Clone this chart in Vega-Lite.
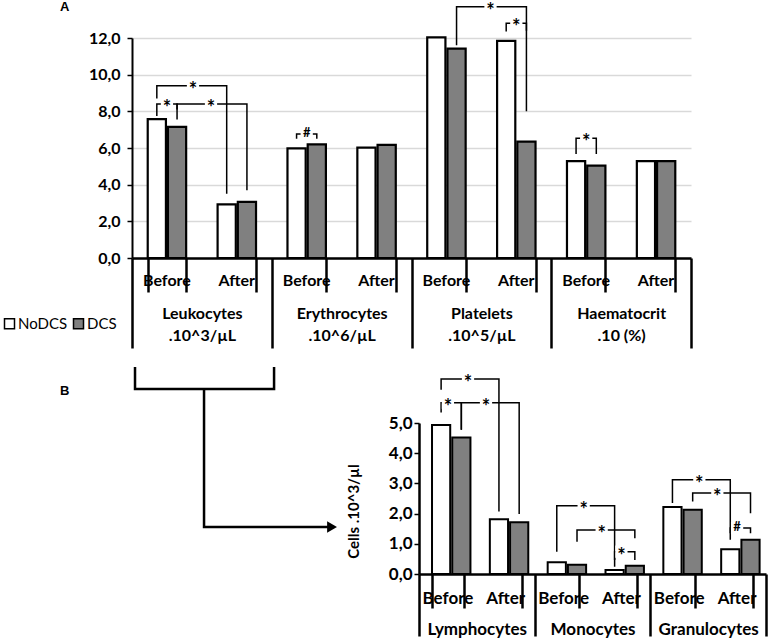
{
  "$schema": "https://vega.github.io/schema/vega-lite/v6.json",
  "padding": {"top": 0, "left": 2, "right": 2, "bottom": 0},
  "config": {
    "view": {"stroke": null},
    "font": "Lato",
    "title": {"font": "Liberation Sans", "fontSize": 13, "fontWeight": "bold", "color": "black"}
  },
  "resolve": {"scale": {"color": "independent"}, "legend": {"color": "independent"}},
  "spacing": 11,
  "datasets": {
    "barsA": [
      {"key": "Leukocytes|Before", "series": "NoDCS", "value": 7.58},
      {"key": "Leukocytes|Before", "series": "DCS", "value": 7.15},
      {"key": "Leukocytes|After", "series": "NoDCS", "value": 2.93},
      {"key": "Leukocytes|After", "series": "DCS", "value": 3.06},
      {"key": "Erythrocytes|Before", "series": "NoDCS", "value": 5.98},
      {"key": "Erythrocytes|Before", "series": "DCS", "value": 6.2},
      {"key": "Erythrocytes|After", "series": "NoDCS", "value": 6.02},
      {"key": "Erythrocytes|After", "series": "DCS", "value": 6.17},
      {"key": "Platelets|Before", "series": "NoDCS", "value": 12.03},
      {"key": "Platelets|Before", "series": "DCS", "value": 11.42},
      {"key": "Platelets|After", "series": "NoDCS", "value": 11.84},
      {"key": "Platelets|After", "series": "DCS", "value": 6.35},
      {"key": "Haematocrit|Before", "series": "NoDCS", "value": 5.28},
      {"key": "Haematocrit|Before", "series": "DCS", "value": 5.04},
      {"key": "Haematocrit|After", "series": "NoDCS", "value": 5.28},
      {"key": "Haematocrit|After", "series": "DCS", "value": 5.28}
    ],
    "bracketsA": [
      {"id": "A1", "ord": 1, "key": "Leukocytes|Before", "series": "NoDCS", "y": 8.7},
      {"id": "A1", "ord": 2, "key": "Leukocytes|Before", "series": "NoDCS", "y": 9.4},
      {"id": "A1", "ord": 3, "key": "Leukocytes|After", "series": "NoDCS", "y": 9.4},
      {"id": "A1", "ord": 4, "key": "Leukocytes|After", "series": "NoDCS", "y": 3.5},
      {"id": "A2", "ord": 1, "key": "Leukocytes|Before", "series": "NoDCS", "y": 7.75},
      {"id": "A2", "ord": 2, "key": "Leukocytes|Before", "series": "NoDCS", "y": 8.4},
      {"id": "A2", "ord": 3, "key": "Leukocytes|Before", "series": "DCS", "y": 8.4},
      {"id": "A2", "ord": 4, "key": "Leukocytes|Before", "series": "DCS", "y": 8.1},
      {"id": "A3", "ord": 1, "key": "Leukocytes|Before", "series": "DCS", "y": 7.55},
      {"id": "A3", "ord": 2, "key": "Leukocytes|Before", "series": "DCS", "y": 8.4},
      {"id": "A3", "ord": 3, "key": "Leukocytes|After", "series": "DCS", "y": 8.4},
      {"id": "A3", "ord": 4, "key": "Leukocytes|After", "series": "DCS", "y": 3.7},
      {"id": "A4", "ord": 1, "key": "Erythrocytes|Before", "series": "NoDCS", "y": 6.5},
      {"id": "A4", "ord": 2, "key": "Erythrocytes|Before", "series": "NoDCS", "y": 6.77},
      {"id": "A4", "ord": 3, "key": "Erythrocytes|Before", "series": "DCS", "y": 6.77},
      {"id": "A4", "ord": 4, "key": "Erythrocytes|Before", "series": "DCS", "y": 6.5},
      {"id": "A5", "ord": 1, "key": "Platelets|Before", "series": "DCS", "y": 11.6},
      {"id": "A5", "ord": 2, "key": "Platelets|Before", "series": "DCS", "y": 13.7},
      {"id": "A5", "ord": 3, "key": "Platelets|After", "series": "DCS", "y": 13.7},
      {"id": "A5", "ord": 4, "key": "Platelets|After", "series": "DCS", "y": 8.0},
      {"id": "A6", "ord": 1, "key": "Platelets|After", "series": "NoDCS", "y": 12.35},
      {"id": "A6", "ord": 2, "key": "Platelets|After", "series": "NoDCS", "y": 12.8},
      {"id": "A6", "ord": 3, "key": "Platelets|After", "series": "DCS", "y": 12.8},
      {"id": "A6", "ord": 4, "key": "Platelets|After", "series": "DCS", "y": 12.4},
      {"id": "A7", "ord": 1, "key": "Haematocrit|Before", "series": "NoDCS", "y": 5.67},
      {"id": "A7", "ord": 2, "key": "Haematocrit|Before", "series": "NoDCS", "y": 6.53},
      {"id": "A7", "ord": 3, "key": "Haematocrit|Before", "series": "DCS", "y": 6.53},
      {"id": "A7", "ord": 4, "key": "Haematocrit|Before", "series": "DCS", "y": 5.67}
    ],
    "innerA": [
      {"key": "Leukocytes|Before", "y": 8.4, "sym": "*"},
      {"key": "Erythrocytes|Before", "y": 6.77, "sym": "#"},
      {"key": "Platelets|After", "y": 12.8, "sym": "*"},
      {"key": "Haematocrit|Before", "y": 6.53, "sym": "*"}
    ],
    "crossA": [
      {"group": "Leukocytes~.10^3/µL", "series": "NoDCS", "y": 9.4, "sym": "*"},
      {"group": "Leukocytes~.10^3/µL", "series": "DCS", "y": 8.4, "sym": "*"},
      {"group": "Platelets~.10^5/µL", "series": "DCS", "y": 13.7, "sym": "*"}
    ],
    "barsB": [
      {"key": "Lymphocytes|Before", "series": "NoDCS", "value": 4.93},
      {"key": "Lymphocytes|Before", "series": "DCS", "value": 4.52},
      {"key": "Lymphocytes|After", "series": "NoDCS", "value": 1.81},
      {"key": "Lymphocytes|After", "series": "DCS", "value": 1.71},
      {"key": "Monocytes|Before", "series": "NoDCS", "value": 0.39},
      {"key": "Monocytes|Before", "series": "DCS", "value": 0.31},
      {"key": "Monocytes|After", "series": "NoDCS", "value": 0.13},
      {"key": "Monocytes|After", "series": "DCS", "value": 0.27},
      {"key": "Granulocytes|Before", "series": "NoDCS", "value": 2.22},
      {"key": "Granulocytes|Before", "series": "DCS", "value": 2.13},
      {"key": "Granulocytes|After", "series": "NoDCS", "value": 0.82},
      {"key": "Granulocytes|After", "series": "DCS", "value": 1.13}
    ],
    "bracketsB": [
      {"id": "B1", "ord": 1, "key": "Lymphocytes|Before", "series": "NoDCS", "y": 6.1},
      {"id": "B1", "ord": 2, "key": "Lymphocytes|Before", "series": "NoDCS", "y": 6.46},
      {"id": "B1", "ord": 3, "key": "Lymphocytes|After", "series": "NoDCS", "y": 6.46},
      {"id": "B1", "ord": 4, "key": "Lymphocytes|After", "series": "NoDCS", "y": 2.07},
      {"id": "B2", "ord": 1, "key": "Lymphocytes|Before", "series": "NoDCS", "y": 5.35},
      {"id": "B2", "ord": 2, "key": "Lymphocytes|Before", "series": "NoDCS", "y": 5.67},
      {"id": "B2", "ord": 3, "key": "Lymphocytes|Before", "series": "DCS", "y": 5.67},
      {"id": "B2", "ord": 4, "key": "Lymphocytes|Before", "series": "DCS", "y": 4.78},
      {"id": "B3", "ord": 1, "key": "Lymphocytes|Before", "series": "DCS", "y": 4.78},
      {"id": "B3", "ord": 2, "key": "Lymphocytes|Before", "series": "DCS", "y": 5.67},
      {"id": "B3", "ord": 3, "key": "Lymphocytes|After", "series": "DCS", "y": 5.67},
      {"id": "B3", "ord": 4, "key": "Lymphocytes|After", "series": "DCS", "y": 1.99},
      {"id": "B4", "ord": 1, "key": "Monocytes|Before", "series": "NoDCS", "y": 0.74},
      {"id": "B4", "ord": 2, "key": "Monocytes|Before", "series": "NoDCS", "y": 2.26},
      {"id": "B4", "ord": 3, "key": "Monocytes|After", "series": "NoDCS", "y": 2.26},
      {"id": "B4", "ord": 4, "key": "Monocytes|After", "series": "NoDCS", "y": 0.24},
      {"id": "B5", "ord": 1, "key": "Monocytes|Before", "series": "DCS", "y": 1.07},
      {"id": "B5", "ord": 2, "key": "Monocytes|Before", "series": "DCS", "y": 1.46},
      {"id": "B5", "ord": 3, "key": "Monocytes|After", "series": "DCS", "y": 1.46},
      {"id": "B5", "ord": 4, "key": "Monocytes|After", "series": "DCS", "y": 1.18},
      {"id": "B6", "ord": 1, "key": "Monocytes|After", "series": "NoDCS", "y": 0.46},
      {"id": "B6", "ord": 2, "key": "Monocytes|After", "series": "NoDCS", "y": 0.74},
      {"id": "B6", "ord": 3, "key": "Monocytes|After", "series": "DCS", "y": 0.74},
      {"id": "B6", "ord": 4, "key": "Monocytes|After", "series": "DCS", "y": 0.46},
      {"id": "B7", "ord": 1, "key": "Granulocytes|Before", "series": "NoDCS", "y": 2.35},
      {"id": "B7", "ord": 2, "key": "Granulocytes|Before", "series": "NoDCS", "y": 3.12},
      {"id": "B7", "ord": 3, "key": "Granulocytes|After", "series": "NoDCS", "y": 3.12},
      {"id": "B7", "ord": 4, "key": "Granulocytes|After", "series": "NoDCS", "y": 1.13},
      {"id": "B8", "ord": 1, "key": "Granulocytes|Before", "series": "DCS", "y": 2.4},
      {"id": "B8", "ord": 2, "key": "Granulocytes|Before", "series": "DCS", "y": 2.68},
      {"id": "B8", "ord": 3, "key": "Granulocytes|After", "series": "DCS", "y": 2.68},
      {"id": "B8", "ord": 4, "key": "Granulocytes|After", "series": "DCS", "y": 2.01},
      {"id": "B9", "ord": 1, "key": "Granulocytes|After", "series": "NoDCS", "y": 1.35},
      {"id": "B9", "ord": 2, "key": "Granulocytes|After", "series": "NoDCS", "y": 1.52},
      {"id": "B9", "ord": 3, "key": "Granulocytes|After", "series": "DCS", "y": 1.52},
      {"id": "B9", "ord": 4, "key": "Granulocytes|After", "series": "DCS", "y": 1.35}
    ],
    "innerB": [
      {"key": "Lymphocytes|Before", "y": 5.67, "sym": "*"},
      {"key": "Monocytes|After", "y": 0.74, "sym": "*"},
      {"key": "Granulocytes|After", "y": 1.52, "sym": "#"}
    ],
    "crossB": [
      {"group": "Lymphocytes", "series": "NoDCS", "y": 6.46, "sym": "*"},
      {"group": "Lymphocytes", "series": "DCS", "y": 5.67, "sym": "*"},
      {"group": "Monocytes", "series": "NoDCS", "y": 2.26, "sym": "*"},
      {"group": "Monocytes", "series": "DCS", "y": 1.46, "sym": "*"},
      {"group": "Granulocytes", "series": "NoDCS", "y": 3.12, "sym": "*"},
      {"group": "Granulocytes", "series": "DCS", "y": 2.68, "sym": "*"}
    ],
    "connector": [
      {"part": "bracket", "ord": 1, "cx": 0.0105, "cy": 1.371},
      {"part": "bracket", "ord": 2, "cx": 0.0105, "cy": 1.225},
      {"part": "bracket", "ord": 3, "cx": 0.495, "cy": 1.225},
      {"part": "bracket", "ord": 4, "cx": 0.495, "cy": 1.371},
      {"part": "stem", "ord": 1, "cx": 0.251, "cy": 1.225},
      {"part": "stem", "ord": 2, "cx": 0.251, "cy": 0.311},
      {"part": "stem", "ord": 3, "cx": 0.697, "cy": 0.311}
    ],
    "arrowhead": [
      {"cx": 0.697, "cy": 0.311}
    ]
  },
  "vconcat": [
    {
      "width": 559,
      "height": 220,
      "title": {"text": "A", "anchor": "start", "frame": "group", "dx": -72, "offset": -13},
      "resolve": {"scale": {"x": "independent"}},
      "layer": [
        {
          "layer": [
            {
              "data": {"name": "barsA"},
              "mark": {"type": "bar", "stroke": "black", "strokeWidth": 2.2},
              "encoding": {
                "x": {
                  "field": "key", "type": "nominal",
                  "scale": {
                    "domain": ["Leukocytes|Before", "Leukocytes|After", "Erythrocytes|Before", "Erythrocytes|After", "Platelets|Before", "Platelets|After", "Haematocrit|Before", "Haematocrit|After"],
                    "paddingInner": 0.45, "paddingOuter": 0.225
                  },
                  "axis": {
                    "orient": "bottom", "title": null, "ticks": false,
                    "domainColor": "black", "domainWidth": 2.5, "labelExpr": "isValid(datum.value) ? split(datum.value, '|')[1] : ''", "labelPadding": 14.5,
                    "labelFontSize": 16, "labelFontWeight": "bold", "labelColor": "black", "labelAngle": 0, "grid": false
                  }
                },
                "xOffset": {"field": "series", "type": "nominal", "scale": {"domain": ["NoDCS", "DCS"], "paddingInner": 0.1}},
                "y": {
                  "field": "value", "type": "quantitative",
                  "scale": {"domain": [0, 12], "nice": false},
                  "axis": {
                    "title": null, "values": [0, 2, 4, 6, 8, 10, 12], "tickCount": 7, "labelOverlap": false,
                    "labelExpr": "replace(format(datum.value, '.1f'), '.', ',')",
                    "labelFontSize": 16, "labelFontWeight": "bold", "labelColor": "black",
                    "tickSize": 5, "tickColor": "black", "tickWidth": 1.5, "domainColor": "black", "domainWidth": 2,
                    "grid": true, "gridColor": "#d9d9d9", "gridWidth": 1.5, "labelPadding": 7, "minExtent": 120
                  }
                },
                "color": {
                  "field": "series", "type": "nominal",
                  "scale": {"domain": ["NoDCS", "DCS"], "range": ["#ffffff", "#808080"]},
                  "legend": {
                    "title": null, "orient": "none", "legendX": -130, "legendY": 278, "direction": "horizontal",
                    "symbolType": "square", "symbolSize": 100, "symbolStrokeColor": "black", "symbolStrokeWidth": 1.5,
                    "labelFontSize": 15, "labelFont": "Lato", "labelColor": "black", "labelOffset": 1, "columnPadding": 2
                  }
                }
              }
            },
            {
              "data": {"name": "bracketsA"},
              "mark": {"type": "line", "color": "black", "strokeWidth": 1.5},
              "encoding": {
                "x": {"field": "key", "type": "nominal"},
                "xOffset": {"field": "series", "type": "nominal"},
                "y": {"field": "y", "type": "quantitative"},
                "detail": {"field": "id"},
                "order": {"field": "ord", "type": "quantitative"}
              }
            },
            {
              "data": {"name": "innerA"},
              "mark": {"type": "point", "shape": "square", "size": 150, "filled": true, "color": "white", "opacity": 1, "strokeWidth": 0},
              "encoding": {
                "x": {"field": "key", "type": "nominal"},
                "y": {"field": "y", "type": "quantitative"}
              }
            },
            {
              "data": {"name": "innerA"},
              "transform": [{"filter": "datum.sym == '*'"}],
              "mark": {"type": "text", "fontSize": 20, "fontWeight": "bold", "color": "black", "baseline": "middle", "dy": 5},
              "encoding": {
                "x": {"field": "key", "type": "nominal"},
                "y": {"field": "y", "type": "quantitative"},
                "text": {"field": "sym"}
              }
            },
            {
              "data": {"name": "innerA"},
              "transform": [{"filter": "datum.sym == '#'"}],
              "mark": {"type": "text", "fontSize": 13, "fontWeight": "bold", "color": "black", "baseline": "middle", "dy": -1},
              "encoding": {
                "x": {"field": "key", "type": "nominal"},
                "y": {"field": "y", "type": "quantitative"},
                "text": {"field": "sym"}
              }
            }
          ]
        },
        {
          "data": {"name": "barsA"},
          "mark": {"type": "point", "opacity": 0},
          "encoding": {
            "x": {
              "field": "key", "type": "nominal",
              "scale": {
                "domain": ["Leukocytes|Before", "Leukocytes|After", "Erythrocytes|Before", "Erythrocytes|After", "Platelets|Before", "Platelets|After", "Haematocrit|Before", "Haematocrit|After"],
                "paddingInner": 0.45, "paddingOuter": 0.225
              },
              "axis": {
                "orient": "bottom", "title": null, "domain": false, "labels": false, "grid": false, "ticks": true,
                "tickBand": "extent", "tickSize": 34, "tickWidth": 2.5, "tickColor": "black"
              }
            }
          }
        },
        {
          "data": {"name": "crossA"},
          "encoding": {
            "x": {
              "field": "group", "type": "nominal",
              "scale": {"domain": ["Leukocytes~.10^3/µL", "Erythrocytes~.10^6/µL", "Platelets~.10^5/µL", "Haematocrit~.10 (%)"], "paddingInner": 0, "paddingOuter": 0},
              "axis": {
                "orient": "bottom", "title": null, "domain": false, "grid": false, "ticks": true, "tickBand": "extent", "tickSize": 90,
                "tickWidth": 2.5, "tickColor": "black", "labelExpr": "isValid(datum.value) ? split(datum.value, '~') : ''", "labelPadding": -43,
                "labelLineHeight": 22, "labelFontSize": 16, "labelFontWeight": "bold", "labelColor": "black", "labelAngle": 0, "labelLimit": 0
              }
            },
            "y": {
              "field": "y", "type": "quantitative",
              "axis": {
                "title": null, "values": [0, 2, 4, 6, 8, 10, 12], "tickCount": 7, "labelOverlap": false,
                "labelExpr": "replace(format(datum.value, '.1f'), '.', ',')",
                "labelFontSize": 16, "labelFontWeight": "bold", "labelColor": "black",
                "tickSize": 5, "tickColor": "black", "tickWidth": 1.5, "domainColor": "black", "domainWidth": 2,
                "grid": true, "gridColor": "#d9d9d9", "gridWidth": 1.5, "labelPadding": 7, "minExtent": 120
              }
            }
          },
          "layer": [
            {
              "transform": [{"filter": "datum.series == 'NoDCS'"}],
              "encoding": {"xOffset": {"value": 61}},
              "layer": [
                {"mark": {"type": "point", "shape": "square", "size": 150, "filled": true, "color": "white", "opacity": 1, "strokeWidth": 0}},
                {"mark": {"type": "text", "fontSize": 20, "fontWeight": "bold", "color": "black", "baseline": "middle", "dy": 5}, "encoding": {"text": {"field": "sym"}}}
              ]
            },
            {
              "transform": [{"filter": "datum.series == 'DCS'"}],
              "encoding": {"xOffset": {"value": 79}},
              "layer": [
                {"mark": {"type": "point", "shape": "square", "size": 150, "filled": true, "color": "white", "opacity": 1, "strokeWidth": 0}},
                {"mark": {"type": "text", "fontSize": 20, "fontWeight": "bold", "color": "black", "baseline": "middle", "dy": 5}, "encoding": {"text": {"field": "sym"}}}
              ]
            }
          ]
        }
      ]
    },
    {
      "spacing": 0,
      "bounds": "flush",
      "hconcat": [
        {
          "width": 287,
          "height": 151,
          "title": {"text": "B", "anchor": "start", "frame": "group", "dx": -72, "offset": -36},
          "layer": [
            {
              "data": {"name": "connector"},
              "mark": {"type": "line", "color": "black", "strokeWidth": 2.5},
              "encoding": {
                "x": {"field": "cx", "type": "quantitative", "scale": {"domain": [0, 1], "nice": false, "zero": false}, "axis": null},
                "y": {"field": "cy", "type": "quantitative", "scale": {"domain": [0, 1], "nice": false, "zero": false}, "axis": null},
                "detail": {"field": "part"},
                "order": {"field": "ord", "type": "quantitative"}
              }
            },
            {
              "data": {"name": "arrowhead"},
              "mark": {"type": "point", "shape": "triangle-right", "size": 130, "filled": true, "color": "black", "opacity": 1},
              "encoding": {
                "x": {"field": "cx", "type": "quantitative"},
                "y": {"field": "cy", "type": "quantitative"}
              }
            }
          ]
        },
        {
          "width": 347,
          "height": 151,
          "resolve": {"scale": {"x": "independent"}},
          "layer": [
            {
              "layer": [
                {
                  "data": {"name": "barsB"},
                  "mark": {"type": "bar", "stroke": "black", "strokeWidth": 2},
                  "encoding": {
                    "x": {
                      "field": "key", "type": "nominal",
                      "scale": {
                        "domain": ["Lymphocytes|Before", "Lymphocytes|After", "Monocytes|Before", "Monocytes|After", "Granulocytes|Before", "Granulocytes|After"],
                        "paddingInner": 0.45, "paddingOuter": 0.225
                      },
                      "axis": {
                        "orient": "bottom", "title": null, "ticks": false,
                        "domainColor": "black", "domainWidth": 2.5, "labelExpr": "isValid(datum.value) ? split(datum.value, '|')[1] : ''", "labelPadding": 16,
                        "labelFontSize": 17, "labelFontWeight": "bold", "labelColor": "black", "labelAngle": 0, "grid": false
                      }
                    },
                    "xOffset": {"field": "series", "type": "nominal", "scale": {"domain": ["NoDCS", "DCS"], "paddingInner": 0.08}},
                    "y": {
                      "field": "value", "type": "quantitative",
                      "scale": {"domain": [0, 5], "nice": false},
                      "axis": {
                        "title": "Cells .10^3/µl", "titleFontSize": 15, "titleFontWeight": "bold", "titleColor": "black", "titleX": -58, "titleY": 88,
                        "values": [0, 1, 2, 3, 4, 5], "tickCount": 6, "labelOverlap": false,
                        "labelExpr": "replace(format(datum.value, '.1f'), '.', ',')",
                        "labelFontSize": 17, "labelFontWeight": "bold", "labelColor": "black",
                        "tickSize": 5, "tickColor": "black", "tickWidth": 1.5, "domainColor": "black", "domainWidth": 2.5,
                        "grid": false, "labelPadding": 2
                      }
                    },
                    "color": {
                      "field": "series", "type": "nominal",
                      "scale": {"domain": ["NoDCS", "DCS"], "range": ["#ffffff", "#808080"]},
                      "legend": null
                    }
                  }
                },
                {
                  "data": {"name": "bracketsB"},
                  "mark": {"type": "line", "color": "black", "strokeWidth": 1.5},
                  "encoding": {
                    "x": {"field": "key", "type": "nominal"},
                    "xOffset": {"field": "series", "type": "nominal"},
                    "y": {"field": "y", "type": "quantitative"},
                    "detail": {"field": "id"},
                    "order": {"field": "ord", "type": "quantitative"}
                  }
                },
                {
                  "data": {"name": "innerB"},
                  "mark": {"type": "point", "shape": "square", "size": 150, "filled": true, "color": "white", "opacity": 1, "strokeWidth": 0},
                  "encoding": {
                    "x": {"field": "key", "type": "nominal"},
                    "y": {"field": "y", "type": "quantitative"}
                  }
                },
                {
                  "data": {"name": "innerB"},
                  "transform": [{"filter": "datum.sym == '*'"}],
                  "mark": {"type": "text", "fontSize": 20, "fontWeight": "bold", "color": "black", "baseline": "middle", "dy": 5},
                  "encoding": {
                    "x": {"field": "key", "type": "nominal"},
                    "y": {"field": "y", "type": "quantitative"},
                    "text": {"field": "sym"}
                  }
                },
                {
                  "data": {"name": "innerB"},
                  "transform": [{"filter": "datum.sym == '#'"}],
                  "mark": {"type": "text", "fontSize": 13, "fontWeight": "bold", "color": "black", "baseline": "middle", "dy": -1},
                  "encoding": {
                    "x": {"field": "key", "type": "nominal"},
                    "y": {"field": "y", "type": "quantitative"},
                    "text": {"field": "sym"}
                  }
                }
              ]
            },
            {
              "data": {"name": "barsB"},
              "mark": {"type": "point", "opacity": 0},
              "encoding": {
                "x": {
                  "field": "key", "type": "nominal",
                  "scale": {
                    "domain": ["Lymphocytes|Before", "Lymphocytes|After", "Monocytes|Before", "Monocytes|After", "Granulocytes|Before", "Granulocytes|After"],
                    "paddingInner": 0.45, "paddingOuter": 0.225
                  },
                  "axis": {
                    "orient": "bottom", "title": null, "domain": false, "labels": false, "grid": false, "ticks": true,
                    "tickBand": "extent", "tickSize": 34, "tickWidth": 2.5, "tickColor": "black"
                  }
                }
              }
            },
            {
              "data": {"name": "crossB"},
              "encoding": {
                "x": {
                  "field": "group", "type": "nominal",
                  "scale": {"domain": ["Lymphocytes", "Monocytes", "Granulocytes"], "paddingInner": 0, "paddingOuter": 0},
                  "axis": {
                    "orient": "bottom", "title": null, "domain": false, "grid": false, "ticks": true, "tickBand": "extent", "tickSize": 62,
                    "tickWidth": 2.5, "tickColor": "black", "labelPadding": -15,
                    "labelFontSize": 17, "labelFontWeight": "bold", "labelColor": "black", "labelAngle": 0, "labelLimit": 0
                  }
                },
                "y": {
                  "field": "y", "type": "quantitative",
                  "axis": {
                    "title": "Cells .10^3/µl", "titleFontSize": 15, "titleFontWeight": "bold", "titleColor": "black", "titleX": -58, "titleY": 88,
                    "values": [0, 1, 2, 3, 4, 5], "tickCount": 6, "labelOverlap": false,
                    "labelExpr": "replace(format(datum.value, '.1f'), '.', ',')",
                    "labelFontSize": 17, "labelFontWeight": "bold", "labelColor": "black",
                    "tickSize": 5, "tickColor": "black", "tickWidth": 1.5, "domainColor": "black", "domainWidth": 2.5,
                    "grid": false, "labelPadding": 2
                  }
                }
              },
              "layer": [
                {
                  "transform": [{"filter": "datum.series == 'NoDCS'"}],
                  "encoding": {"xOffset": {"value": 49}},
                  "layer": [
                    {"mark": {"type": "point", "shape": "square", "size": 150, "filled": true, "color": "white", "opacity": 1, "strokeWidth": 0}},
                    {"mark": {"type": "text", "fontSize": 20, "fontWeight": "bold", "color": "black", "baseline": "middle", "dy": 5}, "encoding": {"text": {"field": "sym"}}}
                  ]
                },
                {
                  "transform": [{"filter": "datum.series == 'DCS'"}],
                  "encoding": {"xOffset": {"value": 67}},
                  "layer": [
                    {"mark": {"type": "point", "shape": "square", "size": 150, "filled": true, "color": "white", "opacity": 1, "strokeWidth": 0}},
                    {"mark": {"type": "text", "fontSize": 20, "fontWeight": "bold", "color": "black", "baseline": "middle", "dy": 5}, "encoding": {"text": {"field": "sym"}}}
                  ]
                }
              ]
            }
          ]
        }
      ]
    }
  ]
}
